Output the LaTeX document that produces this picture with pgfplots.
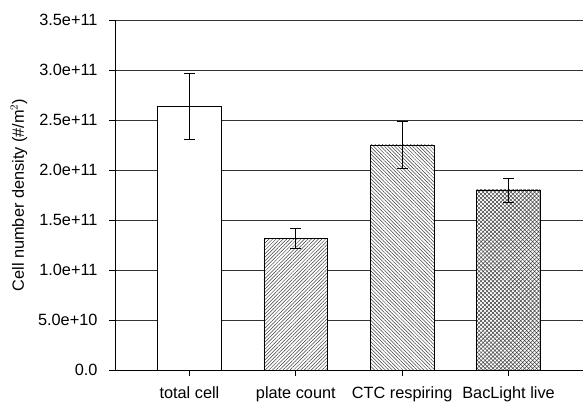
\documentclass[border=0pt]{standalone}
\usepackage{fontspec}
\setmainfont{Liberation Sans}
\usepackage{pgfplots}
\pgfplotsset{compat=1.18}
\usetikzlibrary{patterns.meta}

\begin{document}
\begin{tikzpicture}
\useasboundingbox (0,0) rectangle (583pt,402pt);
\begin{axis}[
    at={(115pt,32pt)}, anchor=south west,
    scale only axis,
    width=468pt, height=350pt,
    xmin=-0.7, xmax=3.7,
    ymin=0, ymax=3.5e11,
    axis x line=bottom, axis y line=left,
    axis line style={-, black, line width=0.8pt},
    xtick={0,1,2,3},
    xticklabels={total cell, plate count, CTC respiring, BacLight live},
    ytick={0,0.5e11,1e11,1.5e11,2e11,2.5e11,3e11,3.5e11},
    yticklabels={0.0, 5.0e+10, 1.0e+11, 1.5e+11, 2.0e+11, 2.5e+11, 3.0e+11, 3.5e+11},
    scaled y ticks=false,
    tick align=outside, major tick length=6pt,
    tick style={black, line width=0.8pt},
    ymajorgrids,
    grid style={black!80, line width=0.8pt},
    tick label style={font=\fontsize{16.3}{19}\selectfont},
    xticklabel style={yshift=-7pt},
    yticklabel style={xshift=-8pt},
    ylabel={Cell number density (\#/m$^2$)},
    every axis y label/.style={at={(rel axis cs:0,0.5)}, xshift=-96pt, rotate=90, anchor=center,
        font=\fontsize{16.3}{19}\selectfont},
    ybar, bar width=0.6, bar shift=0pt,
    /pgf/number format/assume math mode=true,
    clip=false,
]
% total cell
\addplot[draw=black, line width=0.6pt, fill=white,
    error bars/.cd, y dir=both, y explicit,
    error bar style={black, line width=0.8pt},
    error mark options={rotate=90, mark size=5.5pt, line width=0.8pt}]
    coordinates {(0, 2.64e11) +- (0, 0.33e11)};
% plate count
\addplot[draw=black, line width=0.6pt, fill=white,
    postaction={pattern={Lines[angle=45, distance=2.5pt, line width=0.5pt]}, pattern color=black!75},
    error bars/.cd, y dir=both, y explicit,
    error bar style={black, line width=0.8pt},
    error mark options={rotate=90, mark size=5.5pt, line width=0.8pt}]
    coordinates {(1, 1.32e11) +- (0, 0.10e11)};
% CTC respiring
\addplot[draw=black, line width=0.6pt, fill=white,
    postaction={pattern={Lines[angle=-45, distance=2.5pt, line width=0.5pt]}, pattern color=black!75},
    error bars/.cd, y dir=both, y explicit,
    error bar style={black, line width=0.8pt},
    error mark options={rotate=90, mark size=5.5pt, line width=0.8pt}]
    coordinates {(2, 2.25e11) +- (0, 0.235e11)};
% BacLight live
\addplot[draw=black, line width=0.6pt, fill=white,
    postaction={pattern={Hatch[angle=45, distance=2.8pt, line width=0.5pt]}, pattern color=black!75},
    error bars/.cd, y dir=both, y explicit,
    error bar style={black, line width=0.8pt},
    error mark options={rotate=90, mark size=5.5pt, line width=0.8pt}]
    coordinates {(3, 1.80e11) +- (0, 0.12e11)};
\end{axis}
\end{tikzpicture}
\end{document}
